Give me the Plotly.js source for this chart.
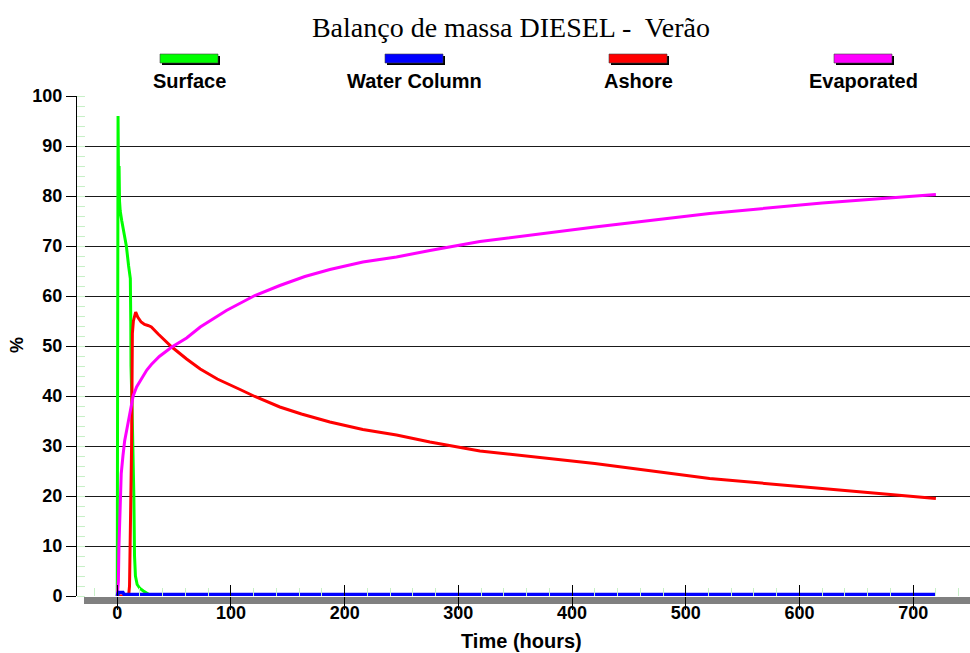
<!DOCTYPE html>
<html>
<head>
<meta charset="utf-8">
<script src="https://cdn.plot.ly/plotly-3.0.1.min.js"></script>
<style>html,body{margin:0;padding:0;background:#fff;}#chart{width:970px;height:653px;}</style>
</head>
<body>
<div id="chart"></div>
<script>
// ---- data (hours, %) ----
const seriesNames = ["Surface", "Water Column", "Ashore", "Evaporated"];
const seriesColors = ["#00ff00", "#0000ff", "#ff0000", "#ff00ff"];

const surfaceTime = [0, 0.1, 0.7, 1.2, 1.6, 2.0, 2.6, 4, 6, 8, 10, 11.5, 11.9, 12.1, 13, 14, 14.6, 15.2, 16, 17.5, 20, 23, 27, 30, 720];
const surfacePct  = [0, 48, 96, 80, 86, 79, 77, 75, 72.5, 70, 66, 63.5, 55, 46, 38, 28, 20, 8, 4, 2.3, 1.5, 1, 0.4, 0, 0];

const columnTime = [0, 0.3, 1, 5, 6, 720];
const columnPct  = [0, 0.7, 0.7, 0.7, 0.3, 0.3];

const ashoreTime = [0, 10, 10.8, 11.2, 11.8, 12.6, 13.3, 14.2, 16.2, 18, 21, 24, 27, 30, 36, 48, 61, 73, 88, 99, 108, 121, 132, 143, 162, 187, 216, 245.6, 275, 304, 319, 420, 521, 620, 720];
const ashorePct  = [0, 0, 2, 8, 8, 30, 52.5, 55, 56.8, 55.8, 54.8, 54.3, 54.1, 53.8, 52.4, 49.8, 47.4, 45.4, 43.4, 42.3, 41.3, 39.9, 38.8, 37.8, 36.4, 34.8, 33.3, 32.2, 30.8, 29.7, 29.0, 26.5, 23.5, 21.5, 19.5];

const evapTime = [0, 0.5, 1, 1.5, 2.3, 3.5, 5, 6.5, 9, 11, 12.5, 14, 17, 20, 23, 26, 30, 37, 48, 61, 73, 82, 96, 121, 143, 165, 187, 216, 245.6, 275, 304, 319, 420, 521, 620, 720];
const evapPct  = [0, 1, 3, 10, 18, 24.5, 28, 31, 34, 36.5, 38, 40, 41.8, 43, 44.2, 45.2, 46.3, 47.9, 49.8, 51.6, 53.8, 55.1, 57.1, 60.1, 62.1, 63.9, 65.3, 66.8, 67.8, 69.1, 70.3, 70.9, 73.8, 76.5, 78.6, 80.3];

const xTickStep = 100;
const yTickStep = 10;
const chartTitle = "Balanço de massa DIESEL -\u00a0 Verão";
const xTitle = "Time (hours)";
const yTitle = "%";

// ---- geometry helpers (pixel -> paper) ----
const L = 77, T = 96, W = 893, H = 500;
const px = p => (p - L) / W;
const py = p => (T + H - p) / H;

const lineW = 3;
const traces = [
  {x: surfaceTime, y: surfacePct, name: seriesNames[0], type: "scatter", mode: "lines", line: {color: seriesColors[0], width: lineW}},
  {x: ashoreTime, y: ashorePct, name: seriesNames[2], type: "scatter", mode: "lines", line: {color: seriesColors[2], width: lineW}},
  {x: evapTime, y: evapPct, name: seriesNames[3], type: "scatter", mode: "lines", line: {color: seriesColors[3], width: lineW}},
  {x: columnTime, y: columnPct, name: seriesNames[1], type: "scatter", mode: "lines", xaxis: "x2", line: {color: seriesColors[1], width: 3.5}}
];

const fam = "Arial, 'Liberation Sans', sans-serif";
const tickFont = {family: fam, size: 18, color: "#000", weight: "bold"};
const labelFont = {family: fam, size: 20, color: "#000", weight: "bold"};
const xRange = [-35.4, 750];

const shapes = [
  {type: "rect", xref: "paper", yref: "paper", x0: px(84), x1: px(970), y0: py(597), y1: py(604), fillcolor: "#808080", line: {width: 0}, layer: "below"}
];
const annotations = [];
const legendCenters = [189, 414, 638, 863];
seriesNames.forEach((n, i) => {
  const cx = legendCenters[i];
  shapes.push({type: "rect", xref: "paper", yref: "paper", x0: px(cx - 27), x1: px(cx + 31), y0: py(56), y1: py(65), fillcolor: "#000", line: {width: 0}});
  shapes.push({type: "rect", xref: "paper", yref: "paper", x0: px(cx - 29), x1: px(cx + 29), y0: py(54), y1: py(63), fillcolor: seriesColors[i], line: {color: "#444", width: 0.6}});
  annotations.push({xref: "paper", yref: "paper", x: px(cx), y: py(81), text: n, showarrow: false, xanchor: "center", yanchor: "middle", font: labelFont});
});
annotations.push({xref: "paper", yref: "paper", x: px(521), y: py(641), text: xTitle, showarrow: false, xanchor: "center", yanchor: "middle", font: labelFont});
annotations.push({xref: "paper", yref: "paper", x: px(17), y: py(345), text: yTitle, showarrow: false, xanchor: "center", yanchor: "middle", textangle: -90, font: tickFont});

const layout = {
  width: 970, height: 653,
  margin: {l: L, r: 0, t: T, b: 653 - T - H, pad: 0},
  paper_bgcolor: "#fff", plot_bgcolor: "#fff",
  showlegend: false,
  title: {text: chartTitle, font: {family: "'Liberation Serif', 'Times New Roman', serif", size: 28, color: "#000"},
          xref: "container", yref: "container", x: 511 / 970, xanchor: "center", y: 1 - 27 / 653, yanchor: "middle"},
  xaxis: {
    range: xRange, tickmode: "linear", tick0: 0, dtick: xTickStep,
    ticks: "inside", ticklen: 11, tickwidth: 1, tickcolor: "#000",
    tickfont: tickFont, ticklabelstandoff: 4, showgrid: false, zeroline: false, showline: false,
    minor: {tickmode: "linear", tick0: 0, dtick: 20, ticks: "inside", ticklen: 8, tickcolor: "#c8f0c8", tickwidth: 1, showgrid: false}
  },
  xaxis2: {
    range: xRange, overlaying: "x", anchor: "y", side: "bottom", tickmode: "linear", tick0: 0, dtick: xTickStep,
    ticks: "outside", ticklen: 13, tickwidth: 1, tickcolor: "#000", showticklabels: false,
    showgrid: false, zeroline: false, showline: false
  },
  yaxis: {
    range: [0, 100], tickmode: "linear", tick0: 0, dtick: yTickStep,
    ticks: "outside", ticklen: 10, tickwidth: 1, tickcolor: "#000",
    tickfont: tickFont, showline: true, linecolor: "#000", linewidth: 1,
    showgrid: true, gridcolor: "#1a1a1a", gridwidth: 1, zeroline: false,
    minor: {tickmode: "linear", tick0: 0, dtick: 2, ticks: "inside", ticklen: 8, tickcolor: "#c8f0c8", tickwidth: 1, showgrid: false}
  },
  shapes: shapes,
  annotations: annotations
};

Plotly.newPlot("chart", traces, layout, {displayModeBar: false, staticPlot: true});
</script>
</body>
</html>
